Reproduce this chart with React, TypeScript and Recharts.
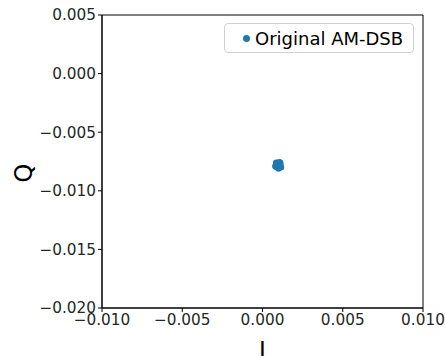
import React from "react";
import { ScatterChart, Scatter, XAxis, YAxis, Label, ReferenceArea } from "recharts";

// I/Q samples of the AM-DSB signal (tight cluster)
const iValues = [0.00098, 0.00085, 0.0011, 0.0008, 0.00115, 0.001, 0.0009, 0.00105, 0.00095, 0.00112];
const qValues = [-0.00778, -0.0076, -0.0076, -0.0079, -0.008, -0.0081, -0.008, -0.00755, -0.0077, -0.0078];

const xTicks = [-0.01, -0.005, 0, 0.005, 0.01];
const yTicks = [-0.02, -0.015, -0.01, -0.005, 0, 0.005];

const seriesName = "Original AM-DSB";
const BLUE = "#1f77b4";
const FONT = "DejaVu Sans, sans-serif";

const points = iValues.map((v, i) => ({ i: v, q: qValues[i] }));

const fmt = (v: number) => {
  const s = Math.abs(v).toFixed(3);
  return v < 0 ? "\u2212" + s : s;
};

const tickStyle = { fill: "#262626", fontSize: 15.3, fontFamily: FONT };

function LegendBox() {
  return (
    <div
      style={{
        position: "absolute",
        left: 224,
        top: 23,
        width: 190,
        height: 30,
        boxSizing: "border-box",
        border: "1px solid #d0d0d0",
        borderRadius: 4,
        background: "#fff",
        paddingLeft: 18,
        fontFamily: FONT,
        fontSize: 18,
        color: "#000",
        display: "flex",
        alignItems: "center",
        whiteSpace: "nowrap",
      }}
    >
      <span style={{ width: 7, height: 7, borderRadius: "50%", background: BLUE, display: "inline-block", marginRight: 5, flex: "none" }} />
      {seriesName}
    </div>
  );
}

export default function App() {
  return (
    <div style={{ position: "absolute", left: 0, top: 0, width: 445, height: 356, background: "#fff" }}>
      <ScatterChart width={445} height={356} margin={{ top: 15, right: 22, left: 0, bottom: 0 }}>
        <XAxis
          dataKey="i"
          type="number"
          domain={[-0.01, 0.01]}
          ticks={xTicks}
          tickFormatter={fmt}
          tick={tickStyle}
          stroke="#000"
          tickSize={4}
          height={48}
          interval={0}
          allowDataOverflow
        >
          <Label value="I" position="insideBottom" offset={-2} style={{ fontSize: 23, fontFamily: FONT, fill: "#000" }} />
        </XAxis>
        <YAxis
          dataKey="q"
          type="number"
          domain={[-0.02, 0.005]}
          ticks={yTicks}
          tickFormatter={fmt}
          tick={tickStyle}
          stroke="#000"
          tickSize={4}
          width={102}
          interval={0}
          allowDataOverflow
        >
          <Label
            content={() => (
              <text x={24} y={173} transform="rotate(-90 24 173)" textAnchor="middle" dominantBaseline="central" fontSize={24} fontFamily={FONT} fill="#000">
                Q
              </text>
            )}
          />
        </YAxis>
        <ReferenceArea x1={-0.01} x2={0.01} y1={-0.02} y2={0.005} fill="none" stroke="#000" strokeWidth={1} />
        <Scatter name={seriesName} data={points} fill={BLUE} isAnimationActive={false} shape={(p: any) => <circle cx={p.cx} cy={p.cy} r={3.2} fill={BLUE} />} />
      </ScatterChart>
      <LegendBox />
    </div>
  );
}
